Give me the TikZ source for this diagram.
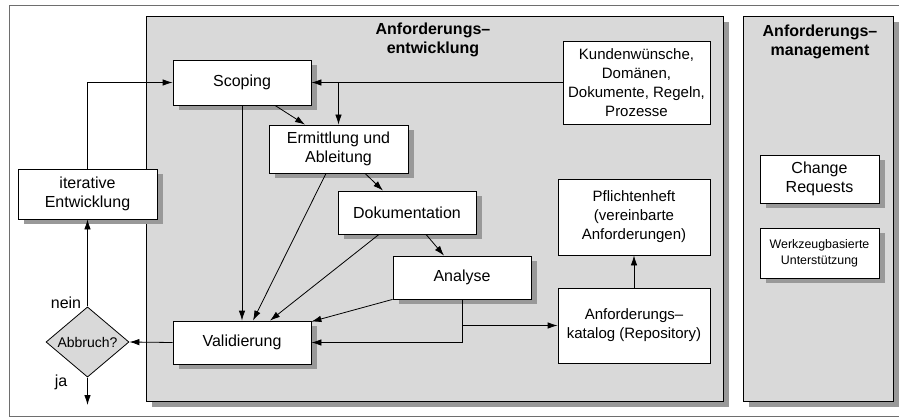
\documentclass[tikz,border=0pt]{standalone}
\usepackage{fontspec}
\setmainfont{Liberation Sans}
\usetikzlibrary{shapes.geometric,arrows.meta,shadows}
\definecolor{panelgray}{HTML}{D9D9D9}
\definecolor{shadowgray}{HTML}{999999}
\definecolor{framegray}{HTML}{6E6E6E}

\begin{document}
\begin{tikzpicture}[x=1pt,y=-1pt,
  arr/.style={-{Latex[length=10pt,width=6.5pt]}, line width=0.8pt},
  box/.style={draw, fill=white, line width=0.8pt, align=center, inner sep=0pt,
    font=\fontsize{16}{19.5}\selectfont},
  shbox/.style={box, drop shadow={shadow xshift=6pt, shadow yshift=-5pt,
    fill=shadowgray, opacity=1}},
  panel/.style={draw, fill=panelgray, line width=0.8pt, inner sep=0pt,
    drop shadow={shadow xshift=6pt, shadow yshift=-6pt, fill=shadowgray, opacity=1}},
  paneltitle/.style={align=center, font=\bfseries\fontsize{16}{19.5}\selectfont},
  lbl/.style={font=\fontsize{16}{19}\selectfont},
]
\useasboundingbox (0,0) rectangle (899,417);

% outer frame
\draw[framegray, line width=1pt] (899,6) -- (9,6) -- (9,416) -- (899,416);

% the two panels
\node[panel, minimum width=577pt, minimum height=385pt] (devpanel) at (434.5,208.5) {};
\node[panel, minimum width=150pt, minimum height=385pt] (mgmtpanel) at (818,208.5) {};
\node[paneltitle] (devtitle) at (433,40) {Anforderungs--\\entwicklung};
\node[paneltitle] (mgmttitle) at (820,42) {Anforderungs--\\management};

% process boxes
\node[shbox, minimum width=138pt, minimum height=45pt] (scoping) at (242,82.5) {Scoping};
\node[shbox, minimum width=139pt, minimum height=48pt] (ermittl) at (338.5,149) {Ermittlung und\\Ableitung};
\node[shbox, minimum width=138pt, minimum height=43pt] (doku) at (407,212.5) {Dokumentation};
\node[shbox, minimum width=138pt, minimum height=43pt] (analyse) at (462,277.5) {Analyse};
\node[shbox, minimum width=138pt, minimum height=43pt] (valid) at (242,342.5) {Validierung};
\node[shbox, minimum width=139pt, minimum height=50pt] (iter) at (87.5,194) {iterative\\Entwicklung};

% inputs and results
\node[box, minimum width=147pt, minimum height=83pt, font=\fontsize{15}{19}\selectfont]
  (kunden) at (636.5,82.5) {Kundenwünsche,\\Domänen,\\Dokumente, Regeln,\\Prozesse};
\node[box, minimum width=152pt, minimum height=76pt, font=\fontsize{15}{19}\selectfont]
  (pflicht) at (634,217) {Pflichtenheft\\(vereinbarte\\Anforderungen)};
\node[box, minimum width=152pt, minimum height=75pt, font=\fontsize{15}{19}\selectfont]
  (katalog) at (634,325.5) {Anforderungs--\\katalog (Repository)};

% management boxes
\node[shbox, minimum width=119pt, minimum height=48pt] (change) at (819.5,179) {Change\\Requests};
\node[shbox, minimum width=119pt, minimum height=50pt, font=\fontsize{12.4}{16}\selectfont]
  (werkzeug) at (819.5,253) {Werkzeugbasierte\\Unterstützung};

% decision
\node[draw, fill=panelgray, line width=0.8pt, shape=diamond, inner sep=0pt,
  minimum width=83pt, minimum height=58pt, font=\fontsize{14}{16}\selectfont]
  (abbruch) at (87.5,342) {Abbruch?};
\node[lbl] (nein) at (66,303) {nein};
\node[lbl] (ja) at (61,382) {ja};
\coordinate (ende) at (87.5,405);

% connectors
\draw[arr] (iter.north) |- (scoping.west);
\draw[arr] (kunden.west) -- (scoping.east);
\draw[arr] (ermittl.north |- scoping.east) -- (ermittl.north);
\draw[arr] ([xshift=33pt]scoping.south) -- ([xshift=-33.5pt]ermittl.north);
\draw[arr] (scoping.south) -- (valid.north);
\draw[arr] ([xshift=-12.5pt]ermittl.south) -- ([xshift=11pt]valid.north);
\draw[arr] ([xshift=26.5pt]ermittl.south) -- ([xshift=-24pt]doku.north);
\draw[arr] ([xshift=-28pt]doku.south) -- ([xshift=28pt]valid.north);
\draw[arr] ([xshift=19pt]doku.south) -- ([xshift=-18pt]analyse.north);
\draw[arr] (analyse.south west) -- ([yshift=-1pt]valid.north east);
\draw[arr] (analyse.south) |- (valid.east);
\draw[arr] (analyse.south |- katalog.west) -- (katalog.west);
\draw[arr] (katalog.north) -- (pflicht.south);
\draw[arr] (valid.west) -- (abbruch.east);
\draw[arr] (abbruch.north) -- (iter.south);
\draw[arr] (abbruch.south) -- (ende);

\end{tikzpicture}
\end{document}
